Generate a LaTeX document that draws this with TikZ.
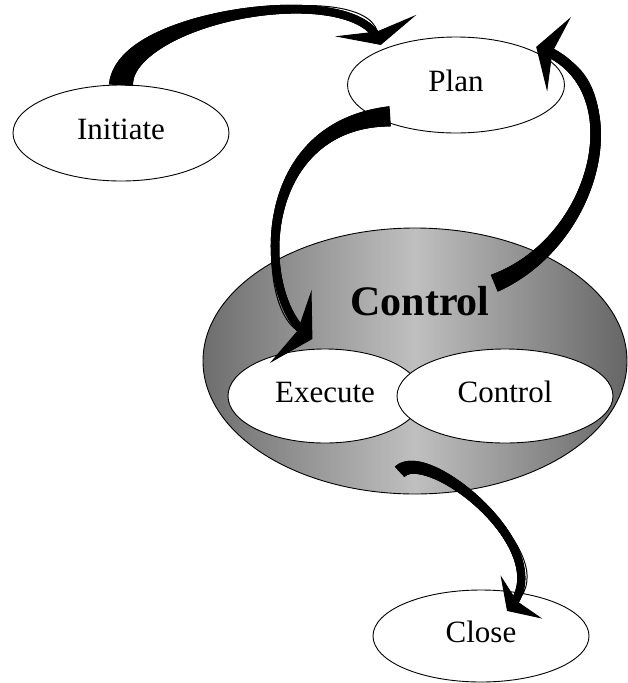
\documentclass[tikz,border=0pt]{standalone}
\usepackage{fontspec}
\setmainfont{Liberation Serif}
\usetikzlibrary{shapes.geometric, positioning, arrows.meta, decorations.markings}

\tikzset{
  phase/.style={ellipse, draw, line width=0.9pt, fill=white, inner sep=0pt,
    text depth=8pt, font=\fontsize{31}{36}\selectfont},
  bigarrow/.style 2 args={line width=1pt, postaction={decorate, decoration={markings,
      mark=between positions 0 and -9pt step 0.5pt with {
        \pgfmathsetmacro\halfw{#2+(#1-#2)*(1-\pgfkeysvalueof{/pgf/decoration/mark info/distance from start}/\pgfdecoratedpathlength)^3}
        \fill (-0.7pt,-\halfw pt) rectangle (0.7pt,\halfw pt);}}}},
}

\begin{document}
\begin{tikzpicture}[x=1pt, y=1pt, on grid]
  \useasboundingbox (0,0) rectangle (627,-683);
  \node[phase, minimum width=216pt, minimum height=96pt] (init) at (121,-133) {Initiate};
  \node[phase, minimum width=217pt, minimum height=96pt] (plan) [above right=48pt and 335pt of init] {Plan};
  \node[ellipse, draw, line width=0.9pt, minimum width=424pt, minimum height=266pt,
        left color=black!57, right color=black!60, middle color=black!25] (cbig) [below left=276pt and 41pt of plan] {};
  \node[font=\fontsize{42}{48}\selectfont\bfseries, inner sep=0pt] (ctitle) [above right=60pt and 5pt of cbig] {Control};
  \node[phase, minimum width=194pt, minimum height=94pt] (exec) [below left=35pt and 90pt of cbig] {Execute};
  \node[phase, minimum width=216pt, minimum height=94pt] (csmall) [right=180pt of exec] {Control};
  \node[phase, minimum width=216pt, minimum height=92pt] (close) [below right=275pt and 66pt of cbig] {Close};

  % curved arrows between the phases
  \draw[bigarrow={12}{4}, -{Stealth[length=20pt,width=84pt,inset=6pt]}]
    (init.north) .. controls +(4,70) and +(-18,68) .. ([yshift=5pt]plan.155);
  \draw[bigarrow={10}{4}, -{Stealth[length=25pt,width=84pt,inset=8pt]}]
    ([yshift=7pt]plan.210) .. controls +(-140,-9) and +(-56,32) .. ([yshift=10pt]exec.105);
  \draw[bigarrow={9}{5}, -{Stealth[length=24pt,width=78pt,inset=7pt]}]
    ([shift={(5pt,3pt)}]ctitle.north east) .. controls +(107,44) and +(100,-32) .. ([shift={(5pt,3pt)}]plan.25);
  \draw[bigarrow={7}{4}, -{Stealth[length=20pt,width=60pt,inset=6pt]}]
    ([shift={(-15pt,23pt)}]cbig.south) .. controls +(29,27) and +(58,56) .. ([yshift=-20pt]close.60);
\end{tikzpicture}
\end{document}
